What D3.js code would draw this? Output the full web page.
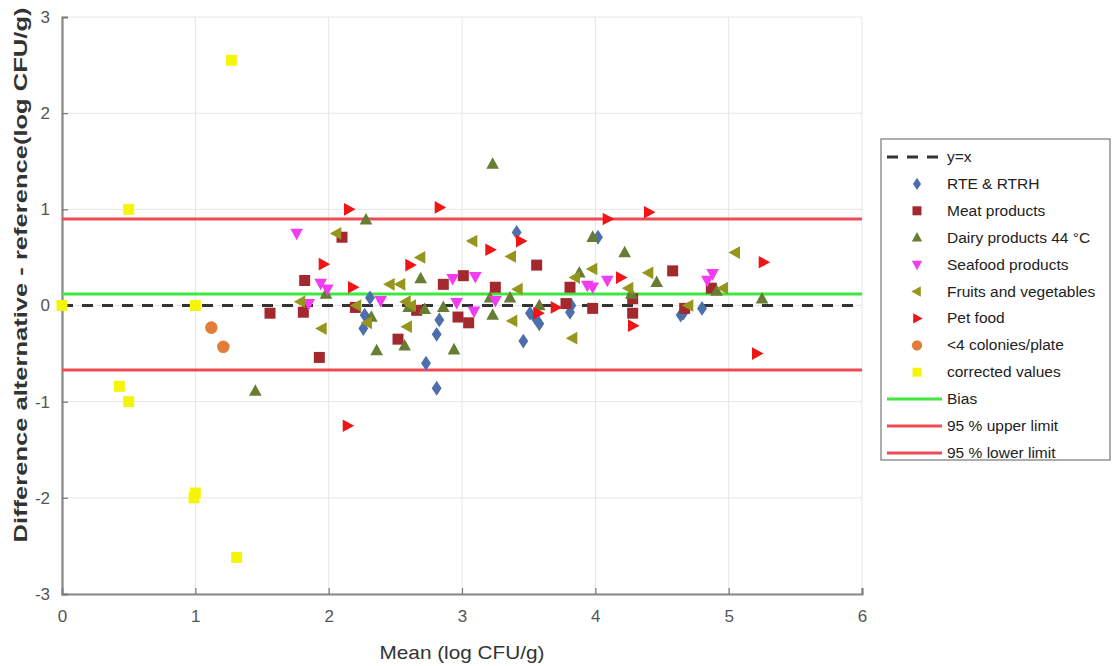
<!DOCTYPE html>
<html><head><meta charset="utf-8">
<script src="https://cdn.jsdelivr.net/npm/d3@7"></script>
<style>body{margin:0;background:#fff;} text{font-family:"Liberation Sans",Arial,sans-serif;}</style>
</head><body><svg id="c" width="1112" height="666"></svg>
<script>
const xTicks = [0,1,2,3,4,5,6];
const yTicks = [-3,-2,-1,0,1,2,3];
const biasValue = 0.12;
const upperLimit = 0.90;
const lowerLimit = -0.67;

const rtePoints = [[2.31,0.08],[2.27,-0.10],[2.26,-0.24],[2.83,-0.15],[2.81,-0.30],[2.73,-0.60],[2.81,-0.86],[3.41,0.76],[3.51,-0.08],[3.58,-0.19],[3.55,-0.13],[3.46,-0.37],[3.81,-0.07],[3.82,0.00],[4.02,0.71],[4.80,-0.03],[4.66,-0.08],[4.64,-0.10]];
const meatPoints = [[1.56,-0.08],[1.81,-0.07],[1.82,0.26],[1.93,-0.54],[2.10,0.71],[2.20,-0.02],[2.52,-0.35],[2.66,-0.05],[2.86,0.22],[2.97,-0.12],[3.01,0.31],[3.05,-0.18],[3.25,0.19],[3.56,0.42],[3.78,0.02],[3.81,0.19],[3.98,-0.03],[4.28,0.07],[4.28,-0.08],[4.58,0.36],[4.67,-0.03],[4.87,0.18]];
const dairyPoints = [[1.45,-0.89],[1.98,0.12],[2.28,0.89],[2.32,-0.12],[2.36,-0.47],[2.57,-0.42],[2.60,-0.02],[2.69,0.28],[2.72,-0.04],[2.86,-0.02],[2.94,-0.46],[3.21,0.08],[3.23,-0.10],[3.23,1.47],[3.36,0.08],[3.58,0.00],[3.88,0.34],[3.98,0.71],[4.22,0.55],[4.27,0.12],[4.46,0.24],[4.91,0.15],[5.25,0.07]];
const seafoodPoints = [[1.76,0.75],[1.85,0.02],[1.94,0.23],[1.99,0.17],[2.39,0.05],[2.93,0.28],[2.96,0.03],[3.09,-0.06],[3.10,0.30],[3.25,0.05],[3.94,0.21],[3.98,0.19],[4.09,0.26],[4.84,0.26],[4.88,0.33]];
const fruitPoints = [[1.79,0.04],[1.95,-0.24],[2.06,0.75],[2.21,0.00],[2.29,-0.18],[2.46,0.22],[2.54,0.22],[2.58,0.04],[2.62,0.00],[2.59,-0.22],[2.69,0.50],[3.08,0.67],[3.37,0.51],[3.38,-0.16],[3.42,0.17],[3.83,-0.34],[3.85,0.29],[3.98,0.38],[4.25,0.18],[4.40,0.34],[4.70,0.00],[4.96,0.18],[5.05,0.55]];
const petPoints = [[1.96,0.43],[2.14,-1.25],[2.15,1.00],[2.18,0.19],[2.61,0.42],[2.83,1.02],[3.21,0.58],[3.44,0.67],[3.57,-0.08],[3.70,-0.02],[4.09,0.90],[4.19,0.29],[4.28,-0.21],[4.40,0.97],[5.21,-0.50],[5.26,0.45]];
const fewColoniesPoints = [[1.12,-0.23],[1.21,-0.43]];
const correctedPoints = [[0,0],[0.50,1.00],[1.27,2.55],[1.00,0.00],[0.43,-0.84],[0.50,-1.00],[1.00,-1.95],[0.99,-2.00],[1.31,-2.62]];

const seriesNames = ["RTE & RTRH","Meat products","Dairy products 44 °C","Seafood products","Fruits and vegetables","Pet food","<4 colonies/plate","corrected values"];
const seriesColors = ["#4d70ad","#a3292e","#687d34","#f23cf2","#96961c","#f01414","#e27c38","#f5f50a"];
const seriesShapes = ["diamond","square","up","down","left","right","circle","square"];
const seriesData = [rtePoints,meatPoints,dairyPoints,seafoodPoints,fruitPoints,petPoints,fewColoniesPoints,correctedPoints];

const svg = d3.select("#c");
const L=62,R=862,T=17,B=594;
const x = d3.scaleLinear().domain([0,6]).range([L,R]);
const y = d3.scaleLinear().domain([-3,3]).range([B,T]);

// grid
svg.append("g").selectAll("line").data(xTicks).join("line")
  .attr("x1",d=>x(d)).attr("x2",d=>x(d)).attr("y1",T).attr("y2",B)
  .attr("stroke","#e6e6e6").attr("stroke-width",1);
svg.append("g").selectAll("line").data(yTicks).join("line")
  .attr("x1",L).attr("x2",R).attr("y1",d=>y(d)).attr("y2",d=>y(d))
  .attr("stroke","#e6e6e6").attr("stroke-width",1);

// axes
const fmt = d=>String(d);
const xAxis = d3.axisBottom(x).tickValues(xTicks).tickSize(-6).tickPadding(16).tickFormat(fmt);
const yAxis = d3.axisLeft(y).tickValues(yTicks).tickSize(-6).tickPadding(12).tickFormat(fmt);
const gx = svg.append("g").attr("transform",`translate(0,${B})`).call(xAxis);
const gy = svg.append("g").attr("transform",`translate(${L},0)`).call(yAxis);
[gx,gy].forEach(g=>{
  g.select(".domain").attr("stroke","#888").attr("stroke-width",2.2);
  g.selectAll(".tick line").attr("stroke","#777").attr("stroke-width",1.2);
  g.selectAll(".tick text").attr("fill","#555").attr("font-size",17).attr("font-family","Liberation Sans, Arial, sans-serif");
});

// reference lines
const hl = (v,color,w,dash)=>svg.append("line").attr("x1",L).attr("x2",R).attr("y1",y(v)).attr("y2",y(v))
  .attr("stroke",color).attr("stroke-width",w).attr("stroke-dasharray",dash||null);
hl(upperLimit,"#ef4a55",3);
hl(lowerLimit,"#ef4a55",3);
hl(biasValue,"#3ee83e",3);
hl(0,"#333",3,"11,9");

// markers
function shapePath(s,r){
  switch(s){
    case "diamond": return `M0,${-r*1.35}L${r*0.9},0L0,${r*1.35}L${-r*0.9},0Z`;
    case "square": return `M${-r},${-r}H${r}V${r}H${-r}Z`;
    case "up": return `M0,${-r*1.25}L${r*1.15},${r*0.85}L${-r*1.15},${r*0.85}Z`;
    case "down": return `M0,${r*1.25}L${r*1.15},${-r*0.85}L${-r*1.15},${-r*0.85}Z`;
    case "left": return `M${-r*1.25},0L${r*0.85},${-r*1.15}L${r*0.85},${r*1.15}Z`;
    case "right": return `M${r*1.25},0L${-r*0.85},${-r*1.15}L${-r*0.85},${r*1.15}Z`;
    case "circle": return d3.symbol(d3.symbolCircle, Math.PI*r*r*1.3)();
  }
}
seriesData.forEach((pts,i)=>{
  svg.append("g").selectAll("path").data(pts).join("path")
    .attr("transform",d=>`translate(${x(d[0])},${y(d[1])})`)
    .attr("d",shapePath(seriesShapes[i],5.5))
    .attr("fill",seriesColors[i]);
});

// axis labels
svg.append("text").attr("x",462).attr("y",659).attr("text-anchor","middle")
  .attr("font-size",19).attr("fill","#333").attr("textLength",165).attr("lengthAdjust","spacingAndGlyphs")
  .text("Mean (log CFU/g)");
svg.append("text").attr("transform","translate(27,275) rotate(-90)").attr("text-anchor","middle")
  .attr("font-size",19).attr("font-weight","bold").attr("fill","#333")
  .attr("textLength",535).attr("lengthAdjust","spacingAndGlyphs")
  .text("Difference alternative - reference(log CFU/g)");

// legend
const lg = svg.append("g");
lg.append("rect").attr("x",881).attr("y",139).attr("width",229).attr("height",321)
  .attr("fill","#fff").attr("stroke","#777").attr("stroke-width",1.2);
const rowY = i=>157+i*26.9;
const tx = 947;
const fs = 15.5;
lg.append("line").attr("x1",887).attr("x2",941).attr("y1",rowY(0)).attr("y2",rowY(0))
  .attr("stroke","#333").attr("stroke-width",3).attr("stroke-dasharray","11,9");
lg.append("text").attr("x",tx).attr("y",rowY(0)+5).attr("font-size",fs).attr("fill","#222").text("y=x");
seriesNames.forEach((n,i)=>{
  lg.append("path").attr("transform",`translate(917,${rowY(i+1)})`).attr("d",shapePath(seriesShapes[i],4.5)).attr("fill",seriesColors[i]);
  lg.append("text").attr("x",tx).attr("y",rowY(i+1)+5).attr("font-size",fs).attr("fill","#222").text(n);
});
const lineItems = [["Bias","#3ee83e"],["95 % upper limit","#ef4a55"],["95 % lower limit","#ef4a55"]];
lineItems.forEach((it,j)=>{
  const yy = rowY(9+j);
  lg.append("line").attr("x1",887).attr("x2",942).attr("y1",yy).attr("y2",yy).attr("stroke",it[1]).attr("stroke-width",3);
  lg.append("text").attr("x",tx).attr("y",yy+5).attr("font-size",fs).attr("fill","#222").text(it[0]);
});
</script></body></html>
